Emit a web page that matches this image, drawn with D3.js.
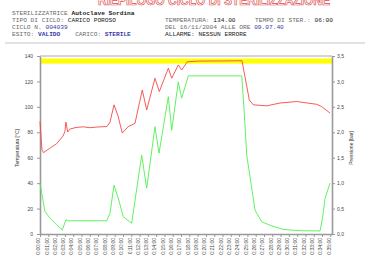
<!DOCTYPE html>
<html>
<head>
<meta charset="utf-8">
<script src="https://cdn.jsdelivr.net/npm/d3@7"></script>
<style>
  body { margin: 0; background: #fff; }
  svg { display: block; }
  .axis path, .axis line { stroke: #999; }
  .axis text { font-family: "Liberation Sans", Arial, sans-serif; font-size: 5px; fill: #444; }
  .hdr { font-family: "Liberation Mono", "DejaVu Sans Mono", monospace; font-size: 6.2px; }
</style>
</head>
<body>
<svg id="chart"></svg>
<script>
// time axis (minutes of cycle) and labels
const timeLabels = ['0:00:00','0:01:00','0:02:00','0:03:00','0:04:00','0:05:00','0:06:00','0:07:00','0:08:00',
  '0:09:00','0:10:00','0:11:00','0:12:00','0:13:00','0:14:00','0:15:00','0:16:00','0:17:00','0:18:00',
  '0:19:00','0:20:00','0:21:00','0:22:00','0:23:00','0:24:00','0:25:00','0:26:00','0:27:00','0:28:00',
  '0:29:00','0:30:00','0:31:00','0:32:00','0:33:00','0:34:00','0:35:00'];

const tempTicks = [0, 20, 40, 60, 80, 100, 120, 140];
const pressTicks = [0, 0.5, 1, 1.5, 2, 2.5, 3, 3.5];

// sterilization band (°C)
const bandLow = 134;
const bandHigh = 138;

// temperature [°C]
const tempMinutes = [0, 0.24, 0.42, 1.2, 2.0, 2.77, 3.0, 3.13, 3.34, 3.6, 4.34, 5.2, 6.0, 7.0, 8.08, 8.44, 8.92,
  9.4, 9.92, 10.64, 11.45, 12.33, 12.86, 13.86, 14.38, 15.47, 15.88, 16.67, 17.08, 17.76, 19.3, 22.0, 24.35,
  25.23, 25.71, 27.33, 28.93, 30.95, 33.36, 33.96, 34.96];
const tempValues = [88.5, 66, 64, 67.5, 71, 77, 80.5, 88, 80.2, 82.5, 83.8, 84.3, 83.6, 84.2, 84.5, 88, 101.6,
  93, 79.4, 84.5, 87, 113.3, 97.6, 122.5, 112, 130.4, 122.5, 133, 129, 135.5, 136, 136.1, 136.3,
  105.5, 101.6, 100.8, 103, 104.2, 102, 100.2, 95.1];

// pressure [bar]
const pressMinutes = [0, 0.6, 1.21, 2.01, 2.69, 3.13, 3.41, 8.04, 8.44, 8.92, 9.4, 10.04, 11.05, 12.26, 12.86,
  13.86, 14.35, 15.47, 15.88, 16.67, 17.08, 17.88, 24.32, 24.59, 24.92, 25.92, 26.73, 27.93, 29.33, 31.34,
  33.76, 34.08, 34.36, 34.96];
const pressValues = [1.0, 0.44, 0.31, 0.18, 0.08, 0.28, 0.26, 0.26, 0.41, 0.96, 0.72, 0.34, 0.21, 1.55, 0.9,
  2.11, 1.59, 2.7, 2.04, 2.99, 2.67, 3.11, 3.11, 2.47, 1.55, 0.47, 0.24, 0.16, 0.09, 0.065,
  0.06, 0.34, 0.70, 1.0];

class CycleChart {

  constructor(_config) {
    this.config = {
      parentElement: _config.parentElement,
      containerWidth: _config.containerWidth || 370,
      containerHeight: _config.containerHeight || 255,
      margin: _config.margin || {top: 56, right: 38, bottom: 21, left: 40}
    }
    this.initVis();
  }

  initVis() {
    let vis = this;

    vis.width = vis.config.containerWidth - vis.config.margin.left - vis.config.margin.right;
    vis.height = vis.config.containerHeight - vis.config.margin.top - vis.config.margin.bottom;

    vis.svg = d3.select(vis.config.parentElement)
      .attr('width', vis.config.containerWidth)
      .attr('height', vis.config.containerHeight);

    vis.xScale = d3.scaleLinear().domain([0, 35.2]).range([0, vis.width]);
    vis.yTemp = d3.scaleLinear().domain([0, 140]).range([vis.height, 0]);
    vis.yPress = d3.scaleLinear().domain([0, 3.5]).range([vis.height, 0]);

    vis.chart = vis.svg.append('g')
      .attr('transform', `translate(${vis.config.margin.left},${vis.config.margin.top})`);

    vis.drawHeader();
    vis.renderVis();
  }

  drawHeader() {
    let vis = this;

    // big red title, mostly cut off by the top edge (as in the scanned report)
    vis.svg.append('text')
      .attr('x', 98).attr('y', 5)
      .attr('textLength', 232)
      .attr('lengthAdjust', 'spacingAndGlyphs')
      .style('font-family', '"Liberation Sans", Arial, sans-serif')
      .style('font-weight', 'bold')
      .style('font-size', '14px')
      .attr('fill', '#fff')
      .attr('stroke', '#e04848')
      .attr('stroke-width', 0.7)
      .text('RIEPILOGO CICLO DI STERILIZZAZIONE');

    const grey = '#6a6a6a', dark = '#222', blue = '#3a3aa8';
    const lines = [
      {x: 12, y: 15, parts: [['STERILIZZATRICE ', grey], ['Autoclave Sordina', dark, 'bold']]},
      {x: 12, y: 22, parts: [['TIPO DI CICLO: ', grey], ['CARICO POROSO', dark]]},
      {x: 12, y: 29, parts: [['CICLO N. ', grey], ['004039', blue]]},
      {x: 12, y: 36, parts: [['ESITO: ', grey], ['VALIDO', blue, 'bold'], ['    CARICO: ', grey], ['STERILE', blue, 'bold']]},
      {x: 165, y: 22, parts: [['TEMPERATURA: ', grey], ['134.00', dark]]},
      {x: 255, y: 22, parts: [['TEMPO DI STER.: ', grey], ['06:00', dark]]},
      {x: 165, y: 29, parts: [['DEL 16/11/2004 ALLE ORE ', grey], ['09.07.40', blue]]},
      {x: 165, y: 36, parts: [['ALLARME: ', dark], ['NESSUN ERRORE', dark]]}
    ];

    lines.forEach(l => {
      const t = vis.svg.append('text').attr('class', 'hdr')
        .attr('x', l.x).attr('y', l.y)
        .attr('xml:space', 'preserve');
      l.parts.forEach(p => {
        t.append('tspan')
          .attr('fill', p[1])
          .style('font-weight', p[2] || 'normal')
          .text(p[0]);
      });
    });

    vis.svg.append('line')
      .attr('x1', 5).attr('x2', 365)
      .attr('y1', 43).attr('y2', 43)
      .attr('stroke', '#d8d8d8')
      .attr('stroke-width', 1.5);
  }

  renderVis() {
    let vis = this;

    // yellow sterilization band
    vis.chart.append('rect')
      .attr('x', 0)
      .attr('width', vis.width)
      .attr('y', vis.yTemp(bandHigh))
      .attr('height', vis.yTemp(bandLow) - vis.yTemp(bandHigh))
      .attr('fill', '#ffff00');

    // top frame
    vis.chart.append('line')
      .attr('x1', 0).attr('x2', vis.width)
      .attr('y1', vis.yTemp(140)).attr('y2', vis.yTemp(140))
      .attr('stroke', '#aaa').attr('stroke-width', 1.2);

    // axes
    const xAxis = d3.axisBottom(vis.xScale)
      .tickValues(d3.range(timeLabels.length))
      .tickFormat(i => timeLabels[i])
      .tickSize(3)
      .tickSizeOuter(0);

    const yAxisL = d3.axisLeft(vis.yTemp)
      .tickValues(tempTicks)
      .tickSize(3)
      .tickPadding(4)
      .tickSizeOuter(0);

    const yAxisR = d3.axisRight(vis.yPress)
      .tickValues(pressTicks)
      .tickFormat(d => d3.format('.1f')(d).replace('.', ','))
      .tickSize(3)
      .tickPadding(2)
      .tickSizeOuter(0);

    const xG = vis.chart.append('g')
      .attr('class', 'axis x-axis')
      .attr('transform', `translate(0,${vis.height})`)
      .call(xAxis);
    xG.selectAll('text')
      .attr('transform', 'rotate(-90)')
      .attr('text-anchor', 'end')
      .attr('x', -4)
      .attr('y', -2)
      .attr('dy', '0.35em');

    const lG = vis.chart.append('g').attr('class', 'axis y-axis').call(yAxisL);
    const rG = vis.chart.append('g').attr('class', 'axis y-axis-r')
      .attr('transform', `translate(${vis.width},0)`)
      .call(yAxisR);
    [xG, lG, rG].forEach(g => g.select('.domain').attr('stroke', '#aaa').attr('stroke-width', 1.6));

    // axis titles
    vis.chart.append('text')
      .attr('transform', `translate(-21,${vis.height / 2 + 3}) rotate(-90)`)
      .attr('text-anchor', 'middle')
      .style('font-family', '"Liberation Sans", Arial, sans-serif')
      .style('font-size', '5px')
      .attr('fill', '#333')
      .text('Temperatura [°C]');

    vis.chart.append('text')
      .attr('transform', `translate(${vis.width + 21},${vis.height / 2 + 3}) rotate(-90)`)
      .attr('text-anchor', 'middle')
      .style('font-family', '"Liberation Sans", Arial, sans-serif')
      .style('font-size', '5px')
      .attr('fill', '#333')
      .text('Pressione [bar]');

    // series
    const pressLine = d3.line()
      .x((d, i) => vis.xScale(pressMinutes[i]))
      .y(d => vis.yPress(d));

    const tempLine = d3.line()
      .x((d, i) => vis.xScale(tempMinutes[i]))
      .y(d => vis.yTemp(d));

    vis.chart.append('path')
      .datum(pressValues)
      .attr('fill', 'none')
      .attr('stroke', '#4ef04e')
      .attr('stroke-width', 0.9)
      .attr('d', pressLine);

    vis.chart.append('path')
      .datum(tempValues)
      .attr('fill', 'none')
      .attr('stroke', '#f54848')
      .attr('stroke-width', 0.9)
      .attr('d', tempLine);
  }
}

new CycleChart({parentElement: '#chart'});
</script>
</body>
</html>
